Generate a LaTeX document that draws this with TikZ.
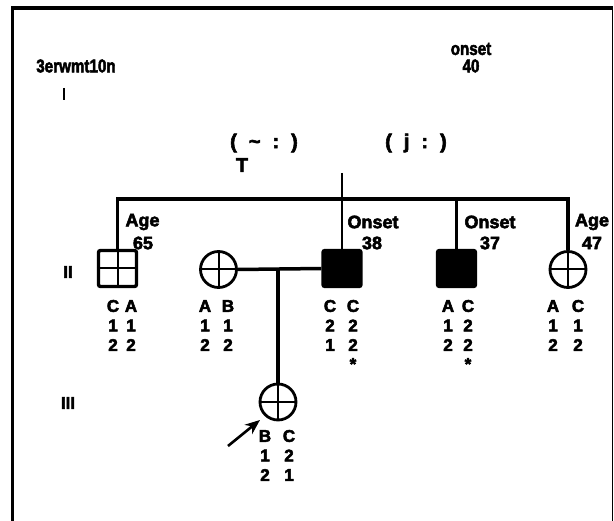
\documentclass[tikz,border=0pt]{standalone}
\usepackage{fontspec}
\setmainfont{Liberation Sans}[BoldFeatures={FakeBold=3}]
\usetikzlibrary{arrows.meta}
\tikzset{
  lbl/.style={font=\fontsize{18}{20}\selectfont\bfseries, inner sep=0pt},
  gt/.style={font=\fontsize{17}{19}\selectfont\bfseries, inner sep=0pt},
  topt/.style={font=\fontsize{16}{18}\selectfont\bfseries, inner sep=0pt},
  bigt/.style={font=\fontsize{20}{22}\selectfont\bfseries, inner sep=0pt},
  sq/.style={draw, line width=3.4pt, minimum width=38pt, minimum height=36pt, inner sep=0pt, rounded corners=2pt},
  fsq/.style={sq, fill=black},
  circ/.style={draw, circle, line width=2.8pt, minimum size=36pt, inner sep=0pt},
  cross/.style={line width=2pt},
  link/.style={line width=3.5pt, line join=miter},
  frame/.style={line width=3.2pt}
}
\newcommand\gcol[6]{%
  \node[gt] (#1a) at (#2,#3) {#4};
  \node[gt] (#1b) at (#2,#3+19.5) {#5};
  \node[gt] (#1c) at (#2,#3+39) {#6};}
\begin{document}
\begin{tikzpicture}[x=1pt,y=-1pt]
\useasboundingbox (0,0) rectangle (614,521);
% frame
\coordinate (fbl) at (12.5,521);
\coordinate (ftl) at (12.5,8);
\coordinate (ftr) at (612.5,8);
\coordinate (fbr) at (612.5,521);
\draw[frame] (fbl) -- (ftl) -- (ftr);
\draw[line width=1.6pt] (ftr) -- (fbr);

% top texts
\node[topt] (gen) at (76,66) {\scalebox{0.95}[1.15]{3erwmt10n}};
\coordinate (tk1) at (64,88);
\coordinate (tk2) at (64,100);
\draw[line width=1.8pt] (tk1) -- (tk2);
\node[topt] (onset0) at (471,49) {\scalebox{0.95}[1.15]{onset}};
\node[topt] (forty) at (471,66) {\scalebox{0.95}[1.15]{40}};
\node[bigt] (par1) at (264,143) {(\hspace{12pt}\char"7E\hspace{12pt}:\hspace{12pt})};
\node[bigt] (tee) at (242,165) {T};
\node[bigt] (par2) at (416,143) {(\hspace{12pt}j\hspace{12pt}:\hspace{12pt})};

% generation labels
\node[gt] (gII) at (68,272) {II};
\node[gt] (gIII) at (68,403) {III};

% individuals
\node[sq] (p1) at (117.5,268.5) {};
\draw[cross] (p1.north) -- (p1.south) (p1.west) -- (p1.east);
\node[circ] (p2) at (218.5,269.5) {};
\draw[cross] (p2.north) -- (p2.south) (p2.west) -- (p2.east);
\node[fsq] (p3) at (342,268.5) {};
\node[fsq] (p4) at (456.5,268.5) {};
\node[circ] (p5) at (568,269.5) {};
\draw[cross] (p5.north) -- (p5.south) (p5.west) -- (p5.east);
\node[circ] (p6) at (278,402) {};
\draw[cross] (p6.north) -- (p6.south) (p6.west) -- (p6.east);

% sibship
\coordinate (sibR) at (568,199);
\coordinate (stub) at (342,173);
\draw[link] (p1.north) |- (sibR) -- (p5.north);
\draw[line width=2.4pt] (stub) -- (p3.north);
\draw[link] (p4.north) -- (p4.north |- sibR);
% marriage and child
\draw[link] (p2.east) -- (p3.west);
\draw[link] (p6.north) -- (p6.north |- p2.east);

% arrow to proband
\coordinate (arr0) at (228,446);
\coordinate (arr1) at (260,420);
\draw[line width=2.6pt, -{Stealth[length=15pt,width=12pt]}] (arr0) -- (arr1);

% age / onset labels
\node[lbl] (age1) at (142.5,222) {Age};
\node[lbl] (age1v) at (143,243) {65};
\node[lbl] (on1) at (373,222) {Onset};
\node[lbl] (on1v) at (372,243) {38};
\node[lbl] (on2) at (490,222) {Onset};
\node[lbl] (on2v) at (490,243) {37};
\node[lbl] (age2) at (592,222) {Age};
\node[lbl] (age2v) at (592,243) {47};

% genotypes
\gcol{a}{113}{306}{C}{1}{2}
\gcol{b}{131}{306}{A}{1}{2}
\gcol{c}{205}{306}{A}{1}{2}
\gcol{d}{228}{306}{B}{1}{2}
\gcol{e}{330}{306}{C}{2}{1}
\gcol{f}{353}{306}{C}{2}{2}
\gcol{g}{448}{306}{A}{1}{2}
\gcol{h}{468}{306}{C}{2}{2}
\gcol{i}{553}{306}{A}{1}{2}
\gcol{j}{578}{306}{C}{1}{2}
\gcol{k}{265}{436}{B}{1}{2}
\gcol{l}{289}{436}{C}{2}{1}
\node[gt] (st1) at (353,364) {*};
\node[gt] (st2) at (468,364) {*};
\end{tikzpicture}
\end{document}
